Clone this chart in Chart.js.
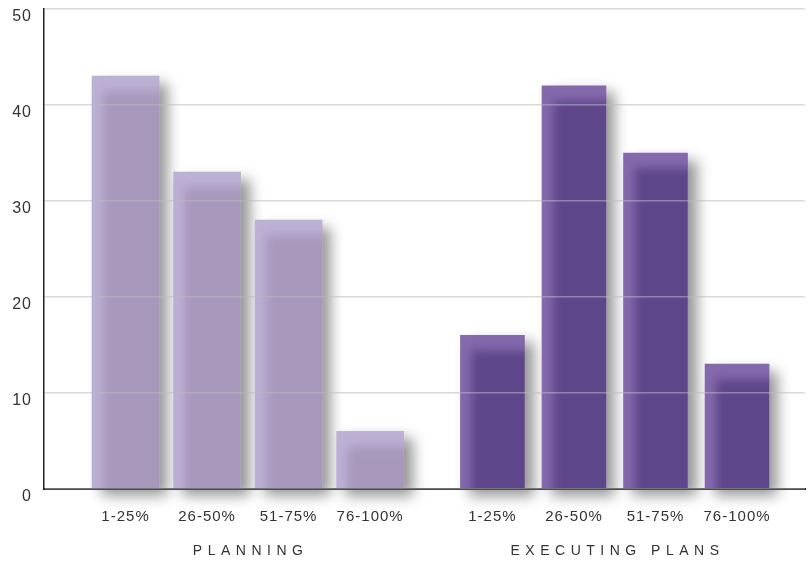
<!DOCTYPE html>
<html>
<head>
<meta charset="utf-8">
<script src="https://cdn.jsdelivr.net/npm/chart.js@4.4.1/dist/chart.umd.min.js"></script>
<style>
  body { margin: 0; background: #fff; }
  canvas { display: block; }
</style>
</head>
<body>
<canvas id="chart-area" width="810" height="562"></canvas>
<script>
var ranges = ['1-25%', '26-50%', '51-75%', '76-100%'];
var groups = ['PLANNING', 'EXECUTING PLANS'];
var planning = [43, 33, 28, 6];
var executing = [16, 42, 35, 13];
var yTicks = [0, 10, 20, 30, 40, 50];

var topColors = ['#bcb0d4', '#8569ad'];
var bodyColors = ['#a797bb', '#5e468a'];
var textColor = '#333333';

// each group gets its own category axis (side by side in one row),
// padded with empty slots so the bars fall in the right places
function spread(values, size, first, step) {
    var labels = [];
    var data = [];
    for (var i = 0; i < size; i++) {
        labels.push('');
        data.push(null);
    }
    for (var j = 0; j < values.length; j++) {
        labels[first + j * step] = ranges[j];
        data[first + j * step] = values[j];
    }
    return { labels: labels, data: data };
}

var planSlots = spread(planning, 5, 1, 1);
var execSlots = spread(executing, 16, 4, 3);

var tickFont = { family: 'Liberation Sans', size: 15, lineHeight: 1.2 };

function fixRow(scale) {
    scale.height = 73;
    scale.paddingLeft = 0;
    scale.paddingRight = 0;
}

// drop shadow under the bars, plus the soft lighter rim on the top/left
var barShade = {
    id: 'barShade',
    beforeDraw: function (chart) {
        chart.ctx.letterSpacing = '1px';
    },
    beforeDatasetsDraw: function (chart) {
        var ctx = chart.ctx;
        ctx.save();
        ctx.shadowColor = 'rgba(0,0,0,0.42)';
        ctx.shadowBlur = 13;
        ctx.shadowOffsetX = 9;
        ctx.shadowOffsetY = 7;
    },
    afterDatasetsDraw: function (chart) {
        var ctx = chart.ctx;
        ctx.restore();
        chart.data.datasets.forEach(function (ds, i) {
            chart.getDatasetMeta(i).data.forEach(function (bar, j) {
                if (ds.data[j] === null) return;
                var p = bar.getProps(['x', 'y', 'base', 'width'], true);
                var left = p.x - p.width / 2;
                ctx.save();
                ctx.beginPath();
                ctx.rect(left, p.y, p.width, p.base - p.y);
                ctx.clip();
                ctx.filter = 'blur(5px)';
                ctx.fillStyle = bodyColors[i];
                ctx.fillRect(left + 11, p.y + 15, p.width + 20, p.base - p.y + 20);
                ctx.restore();
            });
        });
    }
};

// spaced-out group names centred under each cluster
var groupTitles = {
    id: 'groupTitles',
    afterDraw: function (chart) {
        var ctx = chart.ctx;
        ctx.save();
        ctx.font = '14px "Liberation Sans"';
        ctx.fillStyle = textColor;
        ctx.textAlign = 'center';
        ctx.textBaseline = 'middle';
        ctx.letterSpacing = '5.5px';
        groups.forEach(function (name, i) {
            var bars = chart.getDatasetMeta(i).data.filter(function (b, j) {
                return chart.data.datasets[i].data[j] !== null;
            });
            var cx = (bars[0].x + bars[bars.length - 1].x) / 2;
            ctx.fillText(name, cx + 2.75, chart.chartArea.bottom + 62);
        });
        ctx.restore();
    }
};

var config = {
    type: 'bar',
    data: {
        datasets: [{
            label: groups[0],
            data: planSlots.data,
            xAxisID: 'xp',
            backgroundColor: topColors[0],
            barThickness: 67,
            clip: false
        }, {
            label: groups[1],
            data: execSlots.data,
            xAxisID: 'xe',
            backgroundColor: topColors[1],
            barThickness: 64,
            clip: false
        }]
    },
    options: {
        responsive: false,
        animation: false,
        events: [],
        grouped: false,
        layout: { padding: { left: 0, top: 9, right: 5, bottom: 0 } },
        plugins: {
            legend: { display: false },
            tooltip: { enabled: false }
        },
        scales: {
            xp: {
                type: 'category',
                labels: planSlots.labels,
                position: 'bottom',
                stack: 'row',
                stackWeight: 12,
                offset: false,
                grid: { display: false, drawTicks: false },
                border: { color: '#222222', width: 2, z: 1 },
                ticks: { autoSkip: false, maxRotation: 0, padding: 19, color: textColor, font: tickFont },
                afterFit: fixRow
            },
            xe: {
                type: 'category',
                labels: execSlots.labels,
                position: 'bottom',
                stack: 'row',
                stackWeight: 16,
                offset: true,
                grid: { display: false, drawTicks: false },
                border: { color: '#222222', width: 2, z: 1 },
                ticks: { autoSkip: false, maxRotation: 0, padding: 19, color: textColor, font: tickFont },
                afterFit: fixRow
            },
            y: {
                position: 'left',
                min: yTicks[0],
                max: yTicks[yTicks.length - 1],
                grid: { color: 'rgba(185,185,185,0.55)', lineWidth: 1.5, drawTicks: false, z: 1 },
                border: { color: '#222222', width: 1.5, z: 1 },
                ticks: {
                    stepSize: yTicks[1] - yTicks[0],
                    padding: 12,
                    labelOffset: 7.5,
                    color: textColor,
                    font: { family: 'Liberation Sans', size: 16, lineHeight: 1 }
                },
                afterFit: function (scale) {
                    scale.width = 44;
                    scale.paddingTop = 0;
                    scale.paddingBottom = 0;
                }
            }
        }
    },
    plugins: [barShade, groupTitles]
};

var ctx = document.getElementById('chart-area').getContext('2d');
window.myBar = new Chart(ctx, config);
</script>
</body>
</html>
